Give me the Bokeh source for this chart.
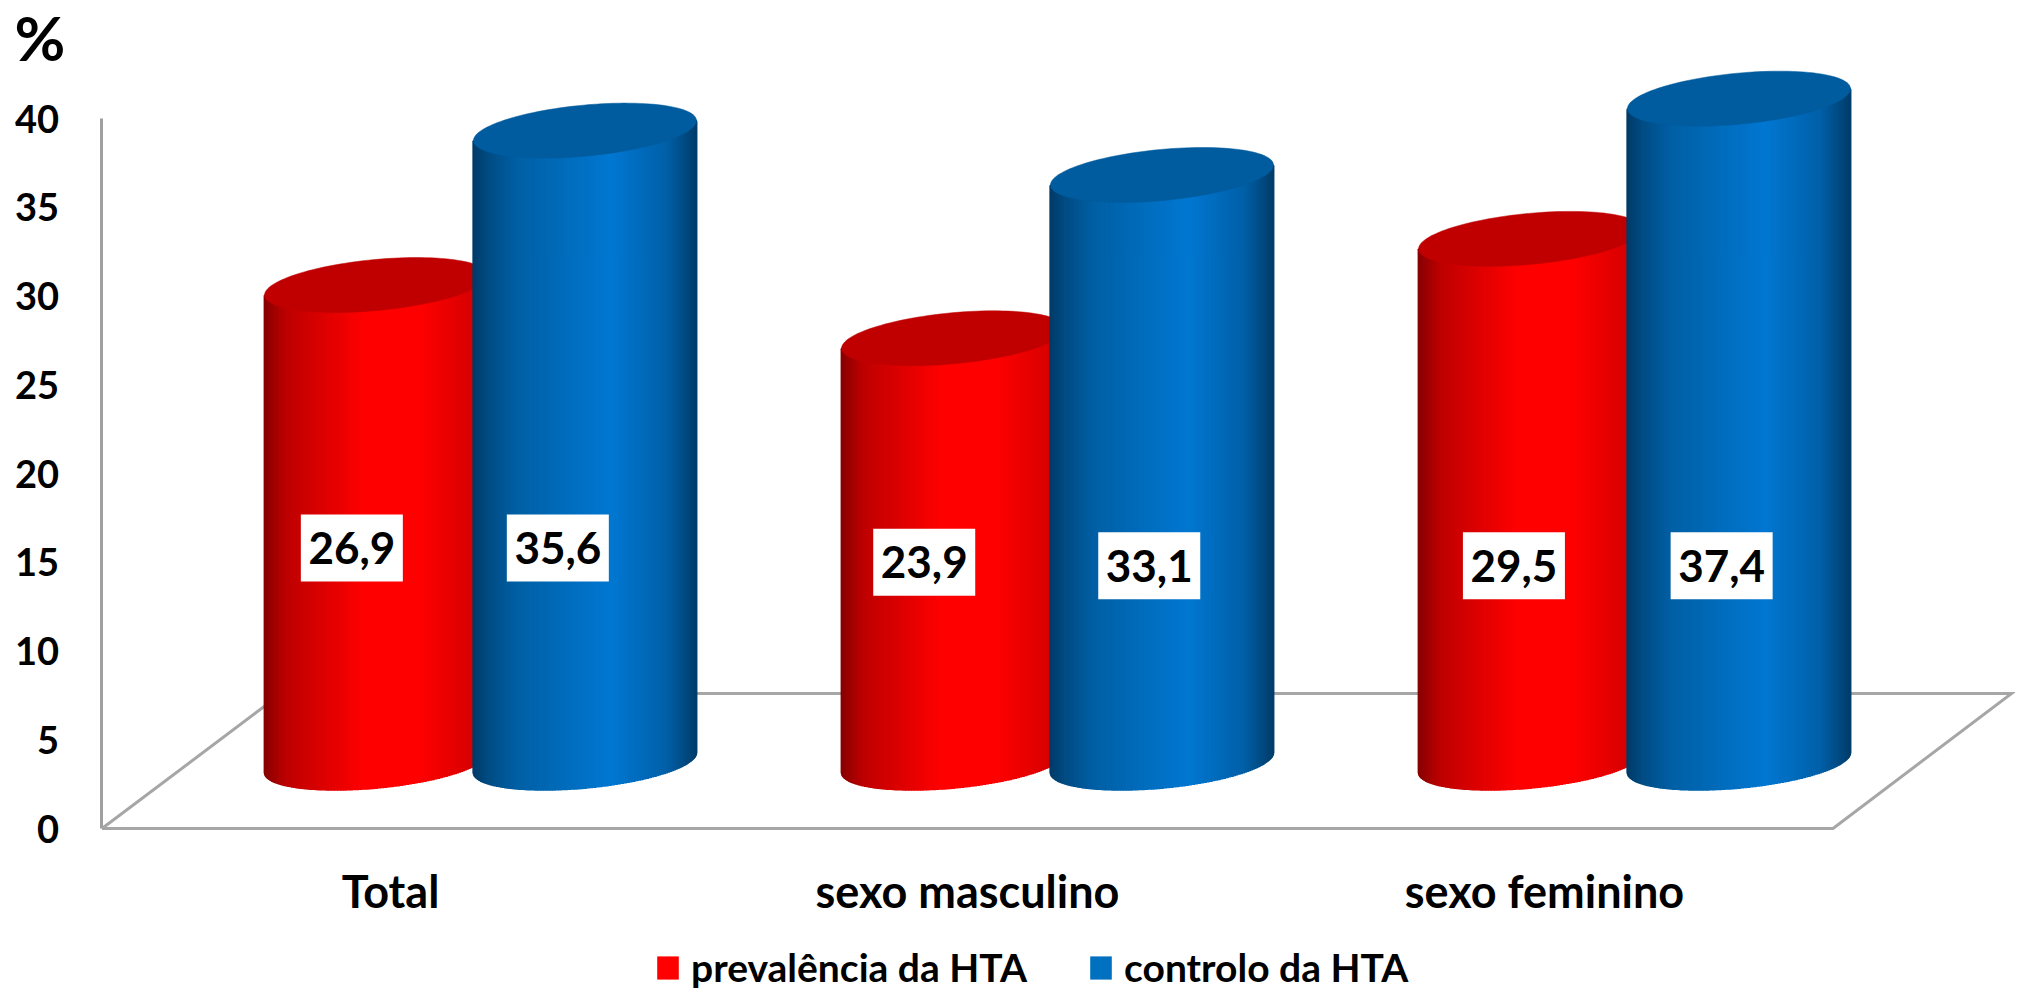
import numpy as np
from bokeh.embed import file_html
from bokeh.resources import INLINE
from bokeh.core.properties import value
from bokeh.models import FixedTicker, Label, Legend, LegendItem, Range1d
from bokeh.plotting import figure

categories = ["Total", "sexo masculino", "sexo feminino"]
series_names = ["prevalência da HTA", "controlo da HTA"]
prevalencia = [26.9, 23.9, 29.5]
controlo = [35.6, 33.1, 37.4]
value_labels = [["26,9", "23,9", "29,5"], ["35,6", "33,1", "37,4"]]
y_ticks = [0, 5, 10, 15, 20, 25, 30, 35, 40]

# 3-D look of the chart, in axis units
FONT = "Lato"
W, H = 2015, 989
X0, Y0 = 390.0, 828.0              # pixel position of x=0 / y=0
PX_X, PX_Y = 577.0, 17.75          # pixels per x unit / per y unit
half_w = 111.5 / PX_X
base_y = 66 / PX_Y                 # height of the cylinders' base centre
rx_shear = 10 / PX_Y
ry = 25.6 / PX_Y
series_dx = [-0.025, 0.337]
label_dx = [[-0.042, -0.05, -0.028], [-0.047, -0.022, -0.03]]
label_y = [[15.8, 15.0, 14.8], [15.8, 14.8, 14.8]]
floor_x = [-0.5, 2.5, 2.809, -0.189, -0.5]
floor_y = [0, 0, 7.6, 7.6, 0]

side_stops = [
    ([0, .1, .25, .45, .7, 1], [(135, 0, 0), (190, 0, 0), (218, 0, 0), (255, 0, 0), (255, 0, 0), (205, 0, 0)]),
    ([0, .08, .2, .62, .87, 1], [(0, 60, 104), (0, 78, 135), (0, 96, 165), (2, 120, 210), (0, 96, 168), (0, 62, 108)]),
]
top_colors = ["#c00000", "#005c9e"]
flat_colors = ["#ff0000", "#0070c0"]

p = figure(width=W, height=H, output_backend="svg", toolbar_location=None,
           x_range=Range1d(-X0 / PX_X, (W - X0) / PX_X), y_range=Range1d((Y0 - H) / PX_Y, Y0 / PX_Y),
           min_border=0, background_fill_color="white", border_fill_color="white")
p.outline_line_color = None
p.grid.visible = False

p.line(floor_x, floor_y, line_color="#a6a6a6", line_width=3, line_join="miter")

N = 111
legend_items = []
for s, vals in enumerate([prevalencia, controlo]):
    centers = [i + series_dx[s] for i in range(len(categories))]
    flat = p.vbar(x=centers, top=[v + base_y - rx_shear for v in vals], bottom=base_y + rx_shear,
                  width=2 * half_w, fill_color=flat_colors[s], line_color=None)
    legend_items.append(LegendItem(label=series_names[s], renderers=[flat]))

order = []
for g in range(3):
    order += [(g, 0), (g, 1)]
series_vals = [prevalencia, controlo]
for g, s in order:
    cx = g + series_dx[s]
    v = series_vals[s][g]
    edges = -np.cos(np.linspace(0, np.pi, N + 1))
    mids = (edges[:-1] + edges[1:]) / 2
    arc = np.sqrt(1 - mids ** 2)
    low = base_y + rx_shear * mids - ry * arc
    top = base_y + v + rx_shear * mids - 0.5 * ry * arc
    stops, cols = side_stops[s]
    cols = np.array(cols, dtype=float)
    f = (mids + 1) / 2
    rgb = np.column_stack([np.interp(f, stops, cols[:, k]) for k in range(3)]).astype(int)
    hexes = ["#%02x%02x%02x" % tuple(c) for c in rgb]
    p.quad(left=cx + edges[:-1] * half_w, right=cx + edges[1:] * half_w, bottom=low, top=top,
           fill_color=hexes, line_color=hexes, line_width=1.6)
    t = np.linspace(0, 2 * np.pi, 120)
    p.patch(cx + half_w * np.cos(t), base_y + v + rx_shear * np.cos(t) + ry * np.sin(t),
            fill_color=top_colors[s], line_color=top_colors[s], line_width=0.5)

for s in range(2):
    xs = [g + series_dx[s] + label_dx[s][g] for g in range(3)]
    p.rect(x=xs, y=label_y[s], width=102, height=67, width_units="screen", height_units="screen",
           fill_color="white", line_color=None)
    p.text(x=xs, y=label_y[s], text=value_labels[s], text_align="center", text_baseline="middle",
           text_font=value(FONT), text_font_style="bold", text_font_size="44px", text_color="black")

yax = p.yaxis[0]
yax.fixed_location = (100.5 - X0) / PX_X
yax.ticker = FixedTicker(ticks=y_ticks)
yax.bounds = (0, 40)
yax.axis_line_color = "#a0a0a0"
yax.axis_line_width = 3
yax.major_tick_line_color = None
yax.minor_tick_line_color = None
yax.major_label_standoff = 36
yax.major_label_text_font = FONT
yax.major_label_text_font_style = "bold"
yax.major_label_text_font_size = "38px"
yax.major_label_text_color = "black"

xax = p.xaxis[0]
xax.fixed_location = 0
xax.ticker = FixedTicker(ticks=[0, 1, 2])
xax.major_label_overrides = {i: c for i, c in enumerate(categories)}
xax.axis_line_color = None
xax.major_tick_line_color = None
xax.minor_tick_line_color = None
xax.major_label_standoff = 29
xax.major_label_text_font = FONT
xax.major_label_text_font_style = "bold"
xax.major_label_text_font_size = "45px"
xax.major_label_text_color = "black"

p.add_layout(Label(x=(14 - X0) / PX_X, y=(Y0 - 36) / PX_Y, text="%", text_font=FONT,
                   text_font_style="bold", text_font_size="62px", text_color="black",
                   text_baseline="alphabetic"))

legend = Legend(items=legend_items, orientation="horizontal", location=(654, H - 990),
                glyph_width=27, glyph_height=29, label_standoff=10, spacing=60,
                margin=0, padding=0, background_fill_alpha=0, border_line_color=None,
                label_text_font=FONT, label_text_font_style="bold",
                label_text_font_size="39px", label_text_color="black")
p.add_layout(legend, "center")

open("out.html", "w").write(file_html(p, INLINE))
